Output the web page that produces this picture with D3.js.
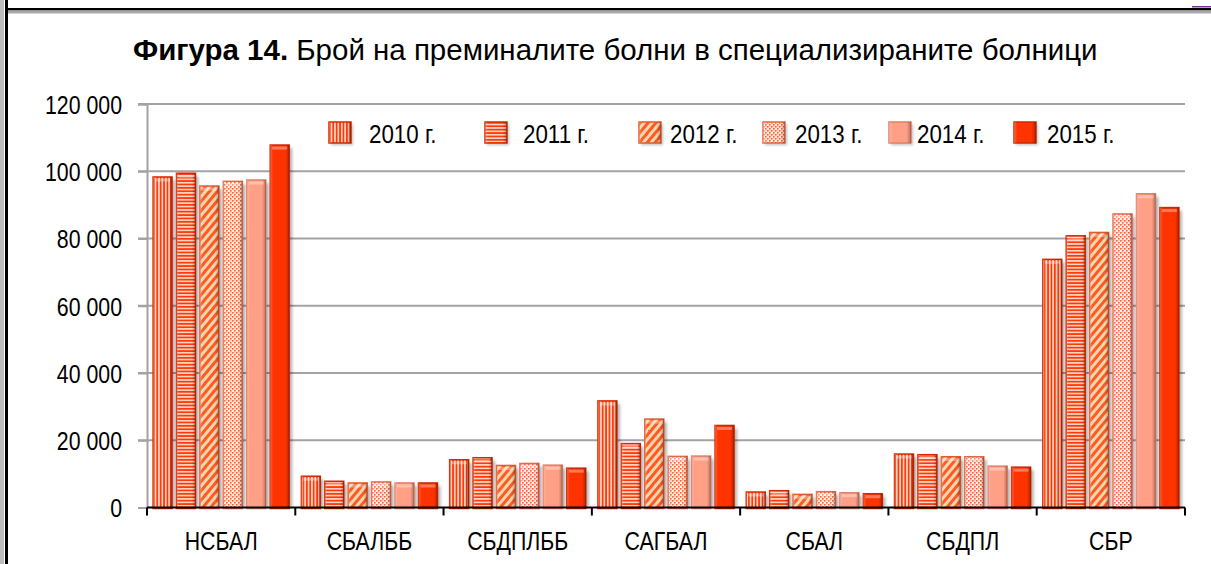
<!DOCTYPE html>
<html>
<head>
<meta charset="utf-8">
<script src="https://cdnjs.cloudflare.com/ajax/libs/d3/7.8.5/d3.min.js"></script>
<style>
  html, body { margin: 0; padding: 0; background: #fff; }
  svg { display: block; }
  text { font-family: 'Liberation Sans', Arial, sans-serif; }
</style>
</head>
<body>
<div id="chart"></div>
<script>
var categories = ['НСБАЛ', 'СБАЛББ', 'СБДПЛББ', 'САГБАЛ', 'СБАЛ', 'СБДПЛ', 'СБР'];
var years = ['2010 г.', '2011 г.', '2012 г.', '2013 г.', '2014 г.', '2015 г.'];

var v2010 = [98300, 9300, 14200, 31700, 4600, 15900, 73800];
var v2011 = [99400, 7800, 14800, 19000, 5000, 15700, 80800];
var v2012 = [95600, 7300, 12500, 26300, 3900, 15100, 81800];
var v2013 = [97000, 7600, 13100, 15200, 4700, 15100, 87300];
var v2014 = [97400, 7300, 12600, 15300, 4400, 12300, 93300];
var v2015 = [107800, 7300, 11700, 24400, 4100, 12000, 89200];

var yTicks = [0, 20000, 40000, 60000, 80000, 100000, 120000];

var series = [v2010, v2011, v2012, v2013, v2014, v2015];

var width = 1211, height = 564;
var plot = {left: 147, right: 1185, top: 104, bottom: 507.5};
var squeeze = 0.82; // labels in the picture are in a narrow face

var svg = d3.select('#chart').append('svg')
    .attr('width', width)
    .attr('height', height);

var defs = svg.append('defs');

// fill patterns, one per year
function stripePattern(id, w, h, bg, fg, draw) {
  var p = defs.append('pattern')
      .attr('id', id)
      .attr('patternUnits', 'userSpaceOnUse')
      .attr('width', w)
      .attr('height', h);
  p.append('rect').attr('width', w).attr('height', h).attr('fill', bg);
  draw(p, fg);
  return p;
}

stripePattern('p2010', 3.4, 10, '#ffd2c0', '#ff3a0a', function(p, fg) {
  p.append('rect').attr('x', 0).attr('y', 0).attr('width', 1.7).attr('height', 10).attr('fill', fg);
});
stripePattern('p2011', 10, 3.4, '#ffd2c0', '#ff3a0a', function(p, fg) {
  p.append('rect').attr('x', 0).attr('y', 0).attr('width', 10).attr('height', 1.7).attr('fill', fg);
});
stripePattern('p2012', 6, 6, '#f7d6b0', '#ff5a22', function(p, fg) {
  p.append('rect').attr('x', 0).attr('y', 0).attr('width', 3).attr('height', 6).attr('fill', fg);
}).attr('patternTransform', 'rotate(40)');
stripePattern('p2013', 4, 4, '#fff1ea', '#ff5a30', function(p, fg) {
  p.append('rect').attr('x', 0).attr('y', 0).attr('width', 1.6).attr('height', 1.6).attr('fill', fg);
  p.append('rect').attr('x', 2).attr('y', 2).attr('width', 1.6).attr('height', 1.6).attr('fill', fg);
  p.append('rect').attr('x', 2.4).attr('y', 0.2).attr('width', 1).attr('height', 1).attr('fill', '#ffa080');
});

var fills = ['url(#p2010)', 'url(#p2011)', 'url(#p2012)', 'url(#p2013)', '#ff9f85', '#ff3300'];
var strokes = ['#d62800', '#d62800', '#e05a30', '#e06a4a', '#e08068', '#d02800'];

// bevel shading across each bar
var bevel = defs.append('linearGradient').attr('id', 'bevel').attr('x1', 0).attr('x2', 1).attr('y1', 0).attr('y2', 0);
bevel.append('stop').attr('offset', '0').attr('stop-color', '#fff').attr('stop-opacity', 0.25);
bevel.append('stop').attr('offset', '0.15').attr('stop-color', '#fff').attr('stop-opacity', 0);
bevel.append('stop').attr('offset', '0.8').attr('stop-color', '#000').attr('stop-opacity', 0);
bevel.append('stop').attr('offset', '1').attr('stop-color', '#000').attr('stop-opacity', 0.28);

var blur = defs.append('filter').attr('id', 'shadow').attr('x', -0.5).attr('y', -0.2).attr('width', 2).attr('height', 1.4);
blur.append('feGaussianBlur').attr('stdDeviation', 1.6);

// outer frame (crop of a page border)
svg.append('rect').attr('x', 0).attr('y', 0).attr('width', 4).attr('height', height).attr('fill', '#bdbdbd');
svg.append('rect').attr('x', 5).attr('y', 0).attr('width', 3).attr('height', height).attr('fill', '#000');
svg.append('rect').attr('x', 8).attr('y', 8).attr('width', width - 8).attr('height', 2.5).attr('fill', '#000');
svg.append('rect').attr('x', 8).attr('y', 10.5).attr('width', width - 8).attr('height', 3).attr('fill', '#a8a8a8');
svg.append('rect').attr('x', 1192).attr('y', 6).attr('width', 19).attr('height', 1.5).attr('fill', '#7030a0');

// title, sized so it spans the same width as in the picture
var title = svg.append('text')
    .attr('x', 133)
    .attr('y', 60)
    .style('font-size', '24px')
    .attr('fill', '#000');
title.append('tspan').style('font-weight', 'bold').text('Фигура 14.');
title.append('tspan').text(' Брой на преминалите болни в специализираните болници');
var tl = title.node().getComputedTextLength();
title.style('font-size', (24 * 965 / tl) + 'px');

var x0 = d3.scaleBand().domain(categories).range([plot.left, plot.right]).padding(0);
var x1 = d3.scaleBand().domain(d3.range(years.length)).range([0, x0.bandwidth()])
    .paddingInner(0.19).paddingOuter(0.26);
var y = d3.scaleLinear().domain([0, 120000]).range([plot.bottom, plot.top]);

// gridlines
svg.append('g').selectAll('line')
    .data(yTicks.filter(function(d) { return d > 0; }))
    .join('line')
    .attr('x1', plot.left - 9)
    .attr('x2', plot.right)
    .attr('y1', function(d) { return y(d); })
    .attr('y2', function(d) { return y(d); })
    .attr('stroke', '#a3a3a3')
    .attr('stroke-width', 2);

// y axis
var yAxis = svg.append('g')
    .attr('transform', 'translate(' + plot.left + ',0)')
    .call(d3.axisLeft(y).tickValues(yTicks).tickSize(9).tickPadding(16)
      .tickFormat(function(d) { return d3.format(',')(d).replace(/,/g, ' '); }));
yAxis.attr('font-family', null).attr('font-size', null);
yAxis.select('.domain').attr('stroke', '#a3a3a3').attr('stroke-width', 2);
yAxis.selectAll('.tick line').attr('stroke', '#a3a3a3').attr('stroke-width', 2);
yAxis.selectAll('.tick text')
    .attr('x', 0)
    .attr('transform', 'translate(-25,0) scale(' + squeeze + ',1)')
    .style('font-size', '26px')
    .attr('fill', '#000')
    .attr('dy', '0.36em');

// bars
var groups = svg.append('g').selectAll('g')
    .data(series)
    .join('g');

groups.each(function(vals, si) {
  var g = d3.select(this);
  var bw = x1.bandwidth();
  var bx = function(d, i) { return x0(categories[i]) + x1(si); };
  g.selectAll('rect.shadow').data(vals).join('rect')
      .attr('class', 'shadow')
      .attr('x', function(d, i) { return bx(d, i) + 3; })
      .attr('y', function(d) { return y(d) + 3; })
      .attr('width', bw)
      .attr('height', function(d) { return plot.bottom - y(d) - 3; })
      .attr('fill', '#000')
      .attr('opacity', 0.3)
      .attr('filter', 'url(#shadow)');
  g.selectAll('rect.bar').data(vals).join('rect')
      .attr('class', 'bar')
      .attr('x', bx)
      .attr('y', function(d) { return y(d); })
      .attr('width', bw)
      .attr('height', function(d) { return plot.bottom - y(d) + 1; })
      .attr('fill', fills[si])
      .attr('stroke', strokes[si])
      .attr('stroke-width', 1.5);
  g.selectAll('rect.bev').data(vals).join('rect')
      .attr('class', 'bev')
      .attr('x', bx)
      .attr('y', function(d) { return y(d); })
      .attr('width', bw)
      .attr('height', function(d) { return plot.bottom - y(d); })
      .attr('fill', 'url(#bevel)');
  g.selectAll('rect.cap').data(vals).join('rect')
      .attr('class', 'cap')
      .attr('x', function(d, i) { return bx(d, i) + 2; })
      .attr('y', function(d) { return y(d) + 1.5; })
      .attr('width', bw - 4)
      .attr('height', 3)
      .attr('fill', '#fff')
      .attr('opacity', 0.35);
});

// x axis
var xAxis = svg.append('g')
    .attr('transform', 'translate(0,' + plot.bottom + ')');
xAxis.append('line')
    .attr('x1', plot.left).attr('x2', plot.right)
    .attr('stroke', '#000').attr('stroke-width', 2);
xAxis.selectAll('line.tk')
    .data(categories.concat(['end']))
    .join('line')
    .attr('class', 'tk')
    .attr('x1', function(d, i) { return i < categories.length ? x0(d) : plot.right; })
    .attr('x2', function(d, i) { return i < categories.length ? x0(d) : plot.right; })
    .attr('y1', 0).attr('y2', 8)
    .attr('stroke', '#000').attr('stroke-width', 2);
xAxis.selectAll('text')
    .data(categories)
    .join('text')
    .attr('transform', function(d) {
      return 'translate(' + (x0(d) + x0.bandwidth() / 2) + ',42) scale(' + squeeze + ',1)';
    })
    .attr('text-anchor', 'middle')
    .style('font-size', '26px')
    .attr('fill', '#000')
    .text(function(d) { return d; });

// legend
var legX = [329, 485, 639, 763, 889, 1014];
var legTextX = [40, 38, 31, 32, 28, 33];
var legend = svg.append('g').selectAll('g')
    .data(years)
    .join('g')
    .attr('transform', function(d, i) { return 'translate(' + legX[i] + ',122)'; });
legend.append('rect')
    .attr('x', 2).attr('y', 2).attr('width', 22).attr('height', 21)
    .attr('fill', '#000').attr('opacity', 0.25).attr('filter', 'url(#shadow)');
legend.append('rect')
    .attr('width', 22).attr('height', 21)
    .attr('fill', function(d, i) { return fills[i]; })
    .attr('stroke', function(d, i) { return strokes[i]; })
    .attr('stroke-width', 1.5);
legend.append('rect')
    .attr('width', 22).attr('height', 21)
    .attr('fill', 'url(#bevel)');
legend.append('text')
    .attr('transform', function(d, i) { return 'translate(' + legTextX[i] + ',21) scale(0.86,1)'; })
    .style('font-size', '26px')
    .attr('fill', '#000')
    .text(function(d) { return d; });
</script>
</body>
</html>
